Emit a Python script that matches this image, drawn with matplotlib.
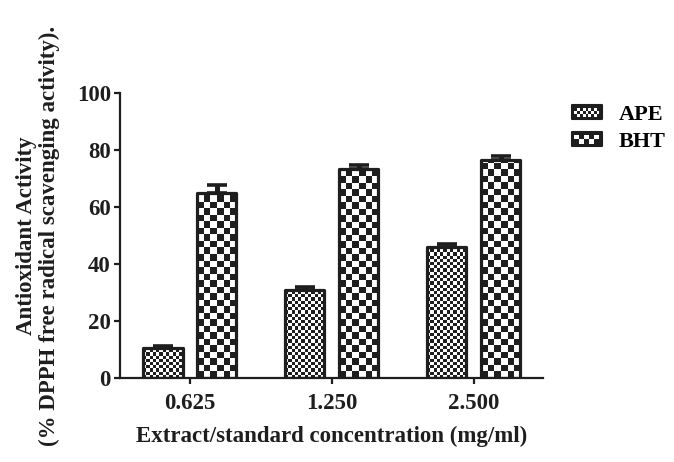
import numpy as np
import matplotlib
matplotlib.use("Agg")
import matplotlib.pyplot as plt
from matplotlib.colors import ListedColormap
from matplotlib.patches import Rectangle
from matplotlib.legend_handler import HandlerBase

# data
concentrations = ["0.625", "1.250", "2.500"]
ape_values = [10.5, 31.0, 46.0]
ape_errors = [0.8, 1.0, 1.0]
bht_values = [65.0, 73.5, 76.5]
bht_errors = [2.8, 1.3, 1.5]

plt.rcParams['font.family'] = ['Liberation Serif', 'DejaVu Serif']
plt.rcParams['font.weight'] = 'bold'
fs = 16.5

fig = plt.figure(figsize=(6.74, 4.62), dpi=100)
ax = fig.add_axes([120/674, 84/462, 423/674, 285/462])

dark = '#1e1e1e'
checker_cmap = ListedColormap([dark, 'white'])

x = np.arange(len(concentrations))
width = 0.275
offset = 0.19

ax.set_xlim(-0.493, 2.487)
ax.set_ylim(0, 100)

def checker_fill(bars, square_px):
    # fill every bar with a checkerboard, clipped to the bar outline
    for bar in bars:
        x0, y0 = bar.get_x(), bar.get_y()
        x1, y1 = x0 + bar.get_width(), y0 + bar.get_height()
        (px0, py0), (px1, py1) = ax.transData.transform([(x0, y0), (x1, y1)])
        nx = int(np.ceil((px1 - px0) / square_px))
        ny = int(np.ceil((py1 - py0) / square_px))
        ii, jj = np.indices((ny, nx))
        board = (ii + jj) % 2
        inv = ax.transData.inverted()
        ex1, ey1 = inv.transform((px0 + nx * square_px, py0 + ny * square_px))
        im = ax.imshow(board, cmap=checker_cmap, origin='lower',
                       extent=(x0, ex1, y0, ey1), aspect='auto',
                       interpolation='nearest', zorder=2)
        im.set_clip_path(bar)

ape_bars = ax.bar(x - offset, ape_values, width, facecolor='none',
                  edgecolor=dark, linewidth=2.3, joinstyle='round', zorder=3)
bht_bars = ax.bar(x + offset, bht_values, width, facecolor='none',
                  edgecolor=dark, linewidth=2.3, joinstyle='round', zorder=3)

checker_fill(ape_bars, 3.2)
checker_fill(bht_bars, 6.5)
ax.set_xlim(-0.493, 2.487)
ax.set_ylim(0, 100)

ax.errorbar(x - offset, ape_values, yerr=[np.zeros(3), ape_errors], fmt='none',
            ecolor=dark, elinewidth=3.6, capsize=7, capthick=2.6, zorder=4)
ax.errorbar(x + offset, bht_values, yerr=[np.zeros(3), bht_errors], fmt='none',
            ecolor=dark, elinewidth=3.6, capsize=7, capthick=2.6, zorder=4)

ax.set_xticks(x)
ax.set_xticklabels(concentrations)
ax.set_yticks([0, 20, 40, 60, 80, 100])
ax.spines['top'].set_visible(False)
ax.spines['right'].set_visible(False)
for s in ['left', 'bottom']:
    ax.spines[s].set_linewidth(1.6)
    ax.spines[s].set_color(dark)
ax.tick_params(axis='both', width=1.6, length=4.5, color=dark,
               labelsize=fs, labelcolor=dark)
ax.tick_params(axis='x', pad=6)
ax.tick_params(axis='y', pad=2)
for lab in ax.get_xticklabels() + ax.get_yticklabels():
    lab.set_fontweight('bold')

ax.set_xlabel("Extract/standard concentration (mg/ml)", fontsize=fs,
              fontweight='bold', color=dark, labelpad=9)
ax.set_ylabel("Antioxidant Activity\n(% DPPH free radical scavenging activity).",
              fontsize=fs, fontweight='bold', color=dark, labelpad=12,
              linespacing=1.1)


class CheckerHandler(HandlerBase):
    def __init__(self, nx, ny):
        super().__init__()
        self.nx = nx
        self.ny = ny

    def create_artists(self, legend, orig_handle, xdescent, ydescent,
                       width, height, fontsize, trans):
        arts = [Rectangle((-xdescent, -ydescent), width, height,
                          facecolor=dark, edgecolor=dark, linewidth=1.5,
                          joinstyle='round', transform=trans)]
        pad = 0.18 * height
        iw = (width - 2 * pad) / self.nx
        ih = (height - 2 * pad) / self.ny
        for i in range(self.ny):
            for j in range(self.nx):
                if (i + j) % 2 == 1:
                    arts.append(Rectangle((-xdescent + pad + j * iw,
                                           -ydescent + pad + i * ih), iw, ih,
                                          facecolor='white', linewidth=0,
                                          transform=trans))
        return arts


h_ape = Rectangle((0, 0), 1, 1)
h_bht = Rectangle((0, 0), 1, 1)
fig.legend([h_ape, h_bht], ["APE", "BHT"],
           handler_map={h_ape: CheckerHandler(9, 3), h_bht: CheckerHandler(5, 2)},
           loc='upper left', bbox_to_anchor=(563/674, 1 - 96/462),
           frameon=False, prop={'weight': 'bold', 'size': 16},
           handlelength=1.35, handleheight=0.6, handletextpad=0.75,
           labelspacing=0.33, borderaxespad=0)

fig.savefig("out.png", dpi=100)
